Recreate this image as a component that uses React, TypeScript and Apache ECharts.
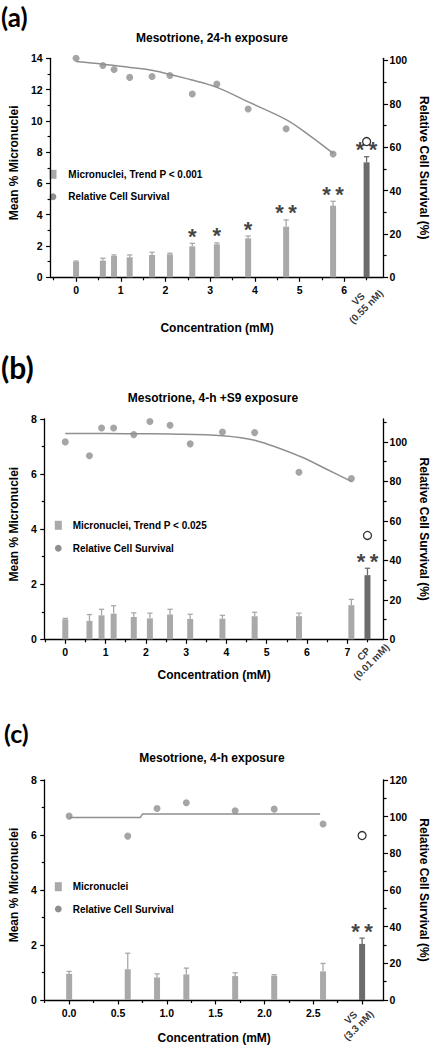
import React, { useEffect, useRef } from "react";
import * as echarts from "echarts";

// ---------------- Panel (a): Mesotrione, 24-h exposure ----------------
const concA = [0, 0.6, 0.85, 1.2, 1.7, 2.1, 2.6, 3.15, 3.85, 4.7, 5.75];
const mnA = [1.0, 1.07, 1.36, 1.28, 1.43, 1.47, 1.98, 2.11, 2.49, 3.24, 4.58];
const upA = [1.04, 1.22, 1.43, 1.43, 1.6, 1.54, 2.17, 2.2, 2.64, 3.67, 4.86];
const sigA = ["", "", "", "", "", "", "*", "*", "*", "**", "**"];
const survA = [101, 97.7, 95.8, 92.2, 92.6, 93.1, 84.5, 89.1, 77.6, 68.5, 56.9];
const fitXA = [0, 0.6, 1.2, 1.72, 2.57, 3.14, 3.84, 4.71, 5.25, 5.76];
const fitYA = [99.5, 98.3, 96.8, 95.4, 91.1, 87.7, 81, 72.6, 65, 57];
const xLabelsA = [0, 1, 2, 3, 4, 5, 6];
const xMinorA = [-0.5, 0.5, 1.5, 2.5, 3.5, 4.5, 5.5, 6.5];
const leftMaxA = 14;
const rightMaxA = 101;
const rightLabelsA = [0, 20, 40, 60, 80, 100];
const rightMinorA = [10, 30, 50, 70, 90];

// ---------------- Panel (b): Mesotrione, 4-h +S9 exposure ----------------
const concB = [0, 0.6, 0.9, 1.2, 1.7, 2.1, 2.6, 3.1, 3.9, 4.7, 5.8, 7.1];
const mnB = [0.73, 0.67, 0.87, 0.93, 0.81, 0.76, 0.9, 0.74, 0.75, 0.84, 0.84, 1.24];
const upB = [0.76, 0.9, 1.09, 1.22, 0.96, 0.95, 1.09, 0.91, 0.87, 0.98, 0.95, 1.45];
const sigB = ["", "", "", "", "", "", "", "", "", "", "", ""];
const survB = [100, 93, 107, 107, 103.7, 110.3, 108.4, 99, 105, 104.7, 84.6, 81.4];
const fitXB = [0, 1, 2, 2.6, 3.9, 4.7, 5.82, 6.5, 7.1];
const fitYB = [104.2, 104.2, 104.1, 104, 103.1, 100.8, 92.7, 86, 80];
const xLabelsB = [0, 1, 2, 3, 4, 5, 6, 7];
const xMinorB = [-0.5, 0.5, 1.5, 2.5, 3.5, 4.5, 5.5, 6.5, 7.5];
const leftMaxB = 8;
const rightMaxB = 111.6;
const rightLabelsB = [0, 20, 40, 60, 80, 100];
const rightMinorB = [10, 30, 50, 70, 90, 110];

// ---------------- Panel (c): Mesotrione, 4-h exposure ----------------
const concC = [0, 0.6, 0.9, 1.2, 1.7, 2.1, 2.6];
const mnC = [0.95, 1.12, 0.82, 0.93, 0.87, 0.88, 1.04];
const upC = [1.04, 1.7, 0.95, 1.16, 0.99, 0.92, 1.33];
const sigC = ["", "", "", "", "", "", ""];
const survC = [100.3, 89.4, 104.5, 107.6, 103.2, 104.1, 96];
const fitXC = [0, 0.73, 0.75, 2.57];
const fitYC = [99.6, 99.6, 101.4, 101.4];
const xLabelsC = [0, 0.5, 1, 1.5, 2, 2.5];
const xMinorC = [-0.25, 0.25, 0.75, 1.25, 1.75, 2.25, 2.75];
const leftMaxC = 8;
const rightMaxC = 120;
const rightLabelsC = [0, 20, 40, 60, 80, 100, 120];
const rightMinorC = [10, 30, 50, 70, 90, 110];

// ---------------- Positive controls ----------------
const ctrlNames = ["VS\n(0.55 nM)", "CP\n(0.01 mM)", "VS\n(3.3 nM)"];
const ctrlConc = [6.5, 7.5, 3.0];
const ctrlMn = [7.35, 2.33, 2.04];
const ctrlUp = [7.71, 2.58, 2.25];
const ctrlSig = ["**", "**", "**"];
const ctrlSurv = [62.6, 52.6, 89.7];

// ---------------- Texts ----------------
const letters = ["(a)", "(b)", "(c)"];
const titles = ["Mesotrione, 24-h exposure", "Mesotrione, 4-h +S9 exposure", "Mesotrione, 4-h exposure"];
const mnLegend = ["Micronuclei, Trend P < 0.001", "Micronuclei, Trend P < 0.025", "Micronuclei"];
const survLegend = "Relative Cell Survival";
const yLeftName = "Mean % Micronuclei";
const yRightName = "Relative Cell Survival (%)";
const xName = "Concentration (mM)";

// ---------------- Styles / layout ----------------
const FONT = "'Liberation Sans', Arial, Helvetica, sans-serif";
const LIGHT = "#a9a9a9";
const DARK = "#6c6c6c";
const DOT = "#8f8f8f";

const layouts = [
  { left: 33, top: 58.3, width: 355, height: 219, xMin: -0.57, xMax: 6.88, xNameGap: 45, ctrlPos: [-4, 26], titleX: 212, titleY: 37.7, letterX: 1, letterY: 4, letterSize: 26, legX: 53, legY: [174.3, 196.7], legTextX: 68.3, labelDigits: 0, smooth: true },
  { left: 36, top: 419, width: 353, height: 220.3, xMin: -0.51, xMax: 7.9, xNameGap: 30, ctrlPos: [0.5, 19], titleX: 213, titleY: 398, letterX: 1, letterY: 352, letterSize: 30, legX: 58.3, legY: [525.3, 548.3], legTextX: 72.7, labelDigits: 0, smooth: true },
  { left: 36, top: 780, width: 352, height: 220, xMin: -0.25, xMax: 3.22, xNameGap: 32, ctrlPos: [-7, 22], titleX: 212, titleY: 758, letterX: 4, letterY: 720, letterSize: 25, legX: 58.3, legY: [886.7, 909], legTextX: 72.7, labelDigits: 1, smooth: false },
];

const panels = [
  { conc: concA, mn: mnA, up: upA, sig: sigA, surv: survA, fitX: fitXA, fitY: fitYA, xLabels: xLabelsA, xMinor: xMinorA, leftMax: leftMaxA, rightMax: rightMaxA, rightLabels: rightLabelsA, rightMinor: rightMinorA },
  { conc: concB, mn: mnB, up: upB, sig: sigB, surv: survB, fitX: fitXB, fitY: fitYB, xLabels: xLabelsB, xMinor: xMinorB, leftMax: leftMaxB, rightMax: rightMaxB, rightLabels: rightLabelsB, rightMinor: rightMinorB },
  { conc: concC, mn: mnC, up: upC, sig: sigC, surv: survC, fitX: fitXC, fitY: fitYC, xLabels: xLabelsC, xMinor: xMinorC, leftMax: leftMaxC, rightMax: rightMaxC, rightLabels: rightLabelsC, rightMinor: rightMinorC },
];

const axisLineStyle = { color: "#000", width: 1.3 };
const tickLineStyle = { color: "#000", width: 1.2 };
const labelStyle = { fontSize: 10.5, fontWeight: "bold" as const, color: "#000", fontFamily: FONT };
const nameStyle = { fontSize: 12, fontWeight: "bold" as const, color: "#000", fontFamily: FONT };

function sigText(s: string) {
  return s.split("").join("\u2009");
}

function buildOption() {
  const grid: any[] = [];
  const xAxis: any[] = [];
  const yAxis: any[] = [];
  const series: any[] = [];
  const graphic: any[] = [];

  panels.forEach((p, i) => {
    const L = layouts[i];
    grid.push({ left: L.left, top: L.top, width: L.width, height: L.height, containLabel: false });

    const xMain = xAxis.length;
    const xMajor = p.xLabels.concat(i === 2 ? [3] : []);
    xAxis.push({
      type: "value", gridIndex: i, position: "bottom", min: L.xMin, max: L.xMax,
      axisLine: { show: true, onZero: false, lineStyle: axisLineStyle },
      axisTick: { show: true, length: 4.5, lineStyle: tickLineStyle, customValues: xMajor },
      axisLabel: { ...labelStyle, margin: 7, customValues: p.xLabels, formatter: (v: number) => v.toFixed(L.labelDigits) },
      splitLine: { show: false },
      name: xName, nameLocation: "middle", nameGap: L.xNameGap, nameTextStyle: nameStyle,
    });
    xAxis.push({
      type: "value", gridIndex: i, position: "bottom", min: L.xMin, max: L.xMax,
      axisLine: { show: false, onZero: false },
      axisTick: { show: true, length: 3, lineStyle: tickLineStyle, customValues: p.xMinor },
      axisLabel: { show: false },
      splitLine: { show: false },
    });

    const yLeft = yAxis.length;
    yAxis.push({
      type: "value", gridIndex: i, position: "left", min: 0, max: p.leftMax, interval: 2,
      axisLine: { show: true, onZero: false, lineStyle: axisLineStyle },
      axisTick: { show: true, length: 4.5, lineStyle: tickLineStyle },
      minorTick: { show: true, splitNumber: 2, length: 3, lineStyle: tickLineStyle },
      axisLabel: { ...labelStyle, margin: 8 },
      splitLine: { show: false }, minorSplitLine: { show: false },
      name: yLeftName, nameLocation: "middle", nameRotate: 90, nameGap: 17,
      nameTextStyle: { ...nameStyle, padding: [0, 0, 0, 10] },
    });
    const yRight = yAxis.length;
    yAxis.push({
      type: "value", gridIndex: i, position: "right", min: 0, max: p.rightMax,
      axisLine: { show: true, onZero: false, lineStyle: axisLineStyle },
      axisTick: { show: true, length: 4.5, lineStyle: tickLineStyle, customValues: p.rightLabels },
      axisLabel: { ...labelStyle, margin: 6, customValues: p.rightLabels },
      splitLine: { show: false },
      name: yRightName, nameLocation: "middle", nameRotate: -90, nameGap: 31, nameTextStyle: nameStyle,
    });
    yAxis.push({
      type: "value", gridIndex: i, position: "right", min: 0, max: p.rightMax,
      axisLine: { show: false, onZero: false },
      axisTick: { show: true, length: 3, lineStyle: tickLineStyle, customValues: p.rightMinor },
      axisLabel: { show: false },
      splitLine: { show: false },
    });

    // bars
    const barData: any[] = p.conc.map((x, k) => [x, p.mn[k]]);
    barData.push({ value: [ctrlConc[i], ctrlMn[i]], itemStyle: { color: DARK } });
    series.push({
      type: "bar", xAxisIndex: xMain, yAxisIndex: yLeft, barWidth: 6,
      itemStyle: { color: LIGHT }, data: barData, z: 3,
    });

    // error bars
    const errData: any[] = p.conc.map((x, k) => [x, p.mn[k], p.up[k], 0]);
    errData.push([ctrlConc[i], ctrlMn[i], ctrlUp[i], 1]);
    series.push({
      type: "custom", xAxisIndex: xMain, yAxisIndex: yLeft, z: 3,
      encode: { x: 0, y: [1, 2] },
      data: errData,
      renderItem: (_params: any, api: any) => {
        const x = api.value(0);
        const p0 = api.coord([x, api.value(1)]);
        const p1 = api.coord([x, api.value(2)]);
        const c = api.value(3) ? DARK : LIGHT;
        return {
          type: "group",
          children: [
            { type: "line", shape: { x1: p0[0], y1: p0[1], x2: p1[0], y2: p1[1] }, style: { stroke: c, lineWidth: 1.3 } },
            { type: "line", shape: { x1: p1[0] - 2.6, y1: p1[1], x2: p1[0] + 2.6, y2: p1[1] }, style: { stroke: c, lineWidth: 1.3 } },
          ],
        };
      },
    });

    // significance asterisks
    const sigData: any[] = [];
    p.conc.forEach((x, k) => { if (p.sig[k]) sigData.push([x, p.up[k], p.sig[k]]); });
    sigData.push([ctrlConc[i], ctrlUp[i], ctrlSig[i]]);
    series.push({
      type: "scatter", xAxisIndex: xMain, yAxisIndex: yLeft, symbolSize: 1,
      itemStyle: { color: "rgba(0,0,0,0)" }, silent: true, z: 5,
      data: sigData,
      label: {
        show: true, position: "inside", offset: [0, -7],
        formatter: (q: any) => sigText(q.value[2]),
        fontSize: 22, fontWeight: "bold", color: "#111", fontFamily: FONT,
      },
    });

    // control labels on x axis
    series.push({
      type: "scatter", xAxisIndex: xMain, yAxisIndex: yLeft, symbolSize: 1,
      itemStyle: { color: "rgba(0,0,0,0)" }, silent: true, z: 5,
      data: [[ctrlConc[i], 0]],
      label: {
        show: true, position: L.ctrlPos, rotate: 45, align: "center", verticalAlign: "middle",
        formatter: ctrlNames[i], fontSize: 10, lineHeight: 11, fontWeight: "bold", color: "#000", fontFamily: FONT,
      },
    });

    // fitted survival curve
    series.push({
      type: "line", xAxisIndex: xMain, yAxisIndex: yRight, showSymbol: false, symbol: "none",
      smooth: L.smooth ? 0.35 : false, lineStyle: { color: DOT, width: 1.5 }, z: 4,
      data: p.fitX.map((x, k) => [x, p.fitY[k]]),
    });

    // survival points
    series.push({
      name: survLegend, type: "scatter", xAxisIndex: xMain, yAxisIndex: yRight, symbolSize: 7,
      itemStyle: { color: DOT }, z: 6,
      data: p.conc.map((x, k) => [x, p.surv[k]]),
    });

    // positive-control survival (open circle)
    series.push({
      type: "scatter", xAxisIndex: xMain, yAxisIndex: yRight, symbol: "circle", symbolSize: 8,
      itemStyle: { color: "#fff", borderColor: "#000", borderWidth: 1.3 }, z: 6,
      data: [[ctrlConc[i], ctrlSurv[i]]],
    });

    // panel letter, title, legend
    graphic.push({
      type: "text", x: L.letterX, y: L.letterY,
      style: { text: letters[i], fontSize: L.letterSize, fontWeight: "bold", fontFamily: "Lato, 'Open Sans', sans-serif", fill: "#000", align: "left", verticalAlign: "top" },
    });
    graphic.push({
      type: "text", x: L.titleX, y: L.titleY,
      style: { text: titles[i], fontSize: 12, fontWeight: "bold", fontFamily: FONT, fill: "#000", align: "center", verticalAlign: "middle" },
    });
    graphic.push({
      type: "rect", shape: { x: L.legX - 3.5, y: L.legY[0] - 4.5, width: 7, height: 9 }, style: { fill: LIGHT },
    });
    graphic.push({
      type: "circle", shape: { cx: L.legX, cy: L.legY[1], r: 3.4 }, style: { fill: DOT },
    });
    graphic.push({
      type: "text", x: L.legTextX, y: L.legY[0],
      style: { text: mnLegend[i], fontSize: 10, fontWeight: "bold", fontFamily: FONT, fill: "#000", align: "left", verticalAlign: "middle" },
    });
    graphic.push({
      type: "text", x: L.legTextX, y: L.legY[1],
      style: { text: survLegend, fontSize: 10, fontWeight: "bold", fontFamily: FONT, fill: "#000", align: "left", verticalAlign: "middle" },
    });
  });

  return { animation: false, backgroundColor: "#fff", grid, xAxis, yAxis, series, graphic };
}

export default function App() {
  const ref = useRef<HTMLDivElement>(null);
  useEffect(() => {
    if (!ref.current) return;
    const chart = echarts.init(ref.current, null, { renderer: "svg" });
    chart.setOption(buildOption() as any);
    return () => chart.dispose();
  }, []);
  return (
    <div
      ref={ref}
      style={{ position: "absolute", left: 0, top: 0, width: 438, height: 1050, background: "#fff" }}
    />
  );
}
